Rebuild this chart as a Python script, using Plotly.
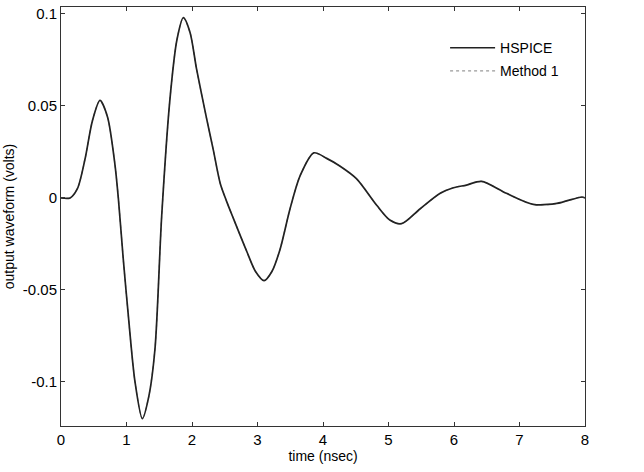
import plotly.graph_objects as go

time_ns = [0, 0.14, 0.25, 0.366, 0.48, 0.595, 0.71, 0.824, 0.875, 0.95, 1.028, 1.13, 1.242,
           1.34, 1.435, 1.537, 1.664, 1.77, 1.868, 1.97, 2.07, 2.224, 2.326, 2.43, 2.53, 2.63,
           2.835, 2.97, 3.1, 3.22, 3.344, 3.496, 3.65, 3.86, 4.056, 4.25, 4.51, 4.82, 5.02,
           5.2, 5.48, 5.79, 5.99, 6.19, 6.42, 6.8, 7.21, 7.57, 7.95, 8.0]
hspice = [0.0, 0.0, 0.005, 0.021, 0.042, 0.053, 0.044, 0.018, 0.0, -0.033, -0.064, -0.1, -0.12,
          -0.108, -0.082, -0.01, 0.054, 0.086, 0.098, 0.09, 0.07, 0.043, 0.026, 0.008, -0.002,
          -0.011, -0.029, -0.04, -0.045, -0.04, -0.028, -0.006, 0.012, 0.0245, 0.0215, 0.0175,
          0.0105, -0.004, -0.012, -0.014, -0.006, 0.0025, 0.0055, 0.007, 0.009, 0.0025, -0.0035,
          -0.003, 0.0005, 0.0]
method1 = list(hspice)

x_ticks = [0, 1, 2, 3, 4, 5, 6, 7, 8]
y_ticks = [-0.1, -0.05, 0, 0.05, 0.1]
y_tick_labels = ["-0.1", "-0.05", "0", "0.05", "0.1"]

fig = go.Figure()
fig.add_trace(go.Scatter(x=time_ns, y=method1, mode="lines", name="Method 1",
                         legendgroup="b", legendrank=2,
                         line=dict(color="#999999", width=1.2, dash="dot", shape="spline", smoothing=0.8)))
fig.add_trace(go.Scatter(x=time_ns, y=hspice, mode="lines", name="HSPICE",
                         legendgroup="a", legendrank=1,
                         line=dict(color="#222222", width=1.7, shape="spline", smoothing=0.8)))

font = dict(family="Liberation Sans, Arial, sans-serif", size=15, color="black")
title_font = dict(family="Liberation Sans, Arial, sans-serif", size=14, color="black")
axis_common = dict(showgrid=False, zeroline=False, showline=True, linecolor="#333333",
                   linewidth=1, mirror="ticks", ticks="inside", ticklen=4,
                   tickcolor="#333333", tickfont=font)

fig.update_layout(
    width=644, height=472,
    margin=dict(l=61, r=59, t=5, b=46),
    paper_bgcolor="white", plot_bgcolor="white",
    font=font,
    showlegend=True,
    legend=dict(x=0.733, y=0.94, xanchor="left", yanchor="top",
                bgcolor="rgba(0,0,0,0)", borderwidth=0, itemwidth=45,
                traceorder="grouped", tracegroupgap=2,
                font=title_font),
    xaxis=dict(range=[0, 8], tickvals=x_ticks, ticktext=[str(v) for v in x_ticks],
               title=dict(text="time (nsec)", font=title_font, standoff=4), **axis_common),
    yaxis=dict(range=[-0.124, 0.1038], tickvals=y_ticks, ticktext=y_tick_labels,
               title=dict(text="output waveform (volts)", font=title_font, standoff=4), **axis_common),
)

fig.write_html("out.html")
